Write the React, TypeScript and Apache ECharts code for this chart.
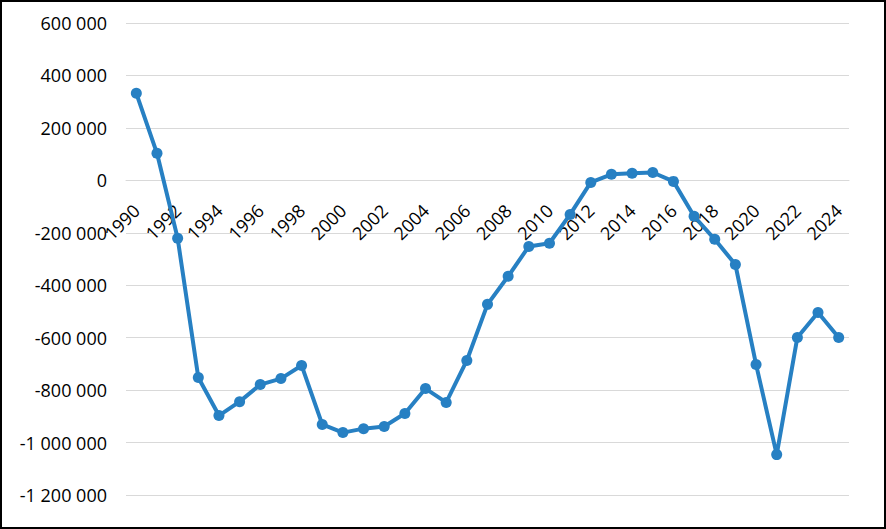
import React, { useEffect, useRef } from "react";
import * as echarts from "echarts";

const years: string[] = [];
for (let y = 1990; y <= 2024; y++) years.push(String(y));

const values: number[] = [
  332000, 103000, -221000, -752000, -897000, -844000, -779000, -756000, -706000, -931000,
  -962000, -947000, -939000, -889000, -794000, -847000, -687000, -473000, -366000, -252000,
  -240000, -130000, -8000, 23000, 27000, 30000, -4000, -137000, -225000, -321000,
  -702000, -1046000, -599000, -504000, -599000,
];

const yMin = -1200000;
const yMax = 600000;
const yStep = 200000;

const W = 886;
const H = 529;
const gridTop = 23;
const gridBottom = 34;

function fmt(v: number): string {
  const neg = v < 0;
  const s = String(Math.abs(Math.round(v))).replace(/\B(?=(\d{3})+(?!\d))/g, " ");
  return (neg ? "-" : "") + s;
}

export default function App() {
  const ref = useRef<HTMLDivElement>(null);
  useEffect(() => {
    document.body.style.margin = "0";
    if (!ref.current) return;
    const chart = echarts.init(ref.current, null, { renderer: "svg" });
    const font = "'Open Sans', sans-serif";
    const plotH = H - gridTop - gridBottom;
    const zeroOffset = -(plotH * (0 - yMin)) / (yMax - yMin);
    chart.setOption({
      animation: false,
      backgroundColor: "#ffffff",
      grid: {
        left: 126,
        right: 37,
        top: gridTop,
        bottom: gridBottom,
        containLabel: false,
        outerBoundsMode: "none",
      },
      graphic: [
        {
          type: "rect",
          shape: { x: 1, y: 1, width: W - 2, height: H - 2 },
          style: { fill: "none", stroke: "#000000", lineWidth: 2 },
          silent: true,
        },
      ],
      xAxis: {
        type: "category",
        data: years,
        boundaryGap: true,
        offset: zeroOffset,
        axisLine: { show: true, onZero: false, lineStyle: { color: "#d9d9d9", width: 1 } },
        axisTick: { show: false },
        axisLabel: {
          interval: 1,
          rotate: 45,
          margin: 27,
          color: "#000000",
          fontSize: 18,
          fontFamily: font,
        },
        splitLine: { show: false },
      },
      yAxis: {
        type: "value",
        min: yMin,
        max: yMax,
        interval: yStep,
        axisLine: { show: false },
        axisTick: { show: false },
        axisLabel: {
          margin: 19,
          color: "#000000",
          fontSize: 18,
          fontFamily: font,
          formatter: (v: number) => fmt(v),
        },
        splitLine: { show: true, lineStyle: { color: "#d9d9d9", width: 1 } },
      },
      series: [
        {
          type: "line",
          data: values,
          symbol: "circle",
          symbolSize: 11,
          lineStyle: { color: "#2780c3", width: 4 },
          itemStyle: { color: "#2780c3" },
          z: 3,
        },
      ],
    });
    return () => chart.dispose();
  }, []);
  return <div ref={ref} style={{ width: W, height: H }} />;
}
